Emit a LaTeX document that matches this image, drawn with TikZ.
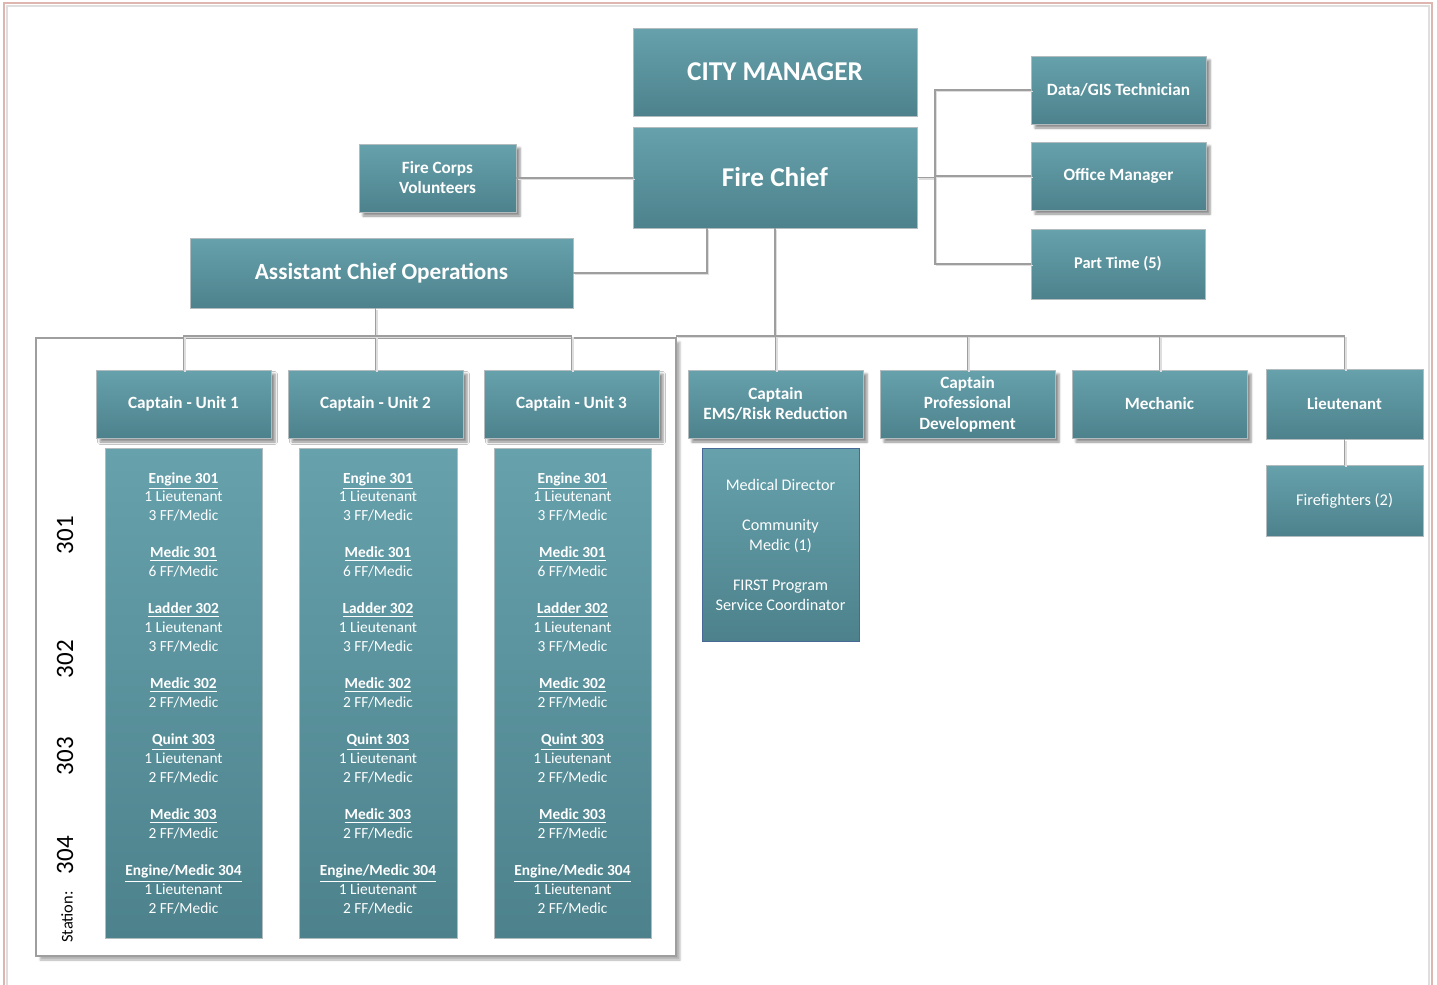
\documentclass[tikz,border=0pt]{standalone}
\usepackage{fontspec}
\setmainfont{Carlito}
\usetikzlibrary{shadows.blur}

\definecolor{boxtop}{RGB}{102,161,172}
\definecolor{boxbot}{RGB}{77,130,140}
\definecolor{boxedge}{RGB}{178,188,190}
\definecolor{linegray}{RGB}{158,158,158}
\definecolor{lineshade}{RGB}{222,222,222}
\definecolor{pagepink}{RGB}{222,182,175}
\definecolor{subedge}{RGB}{72,104,150}

% box placed by its corners: style, name, x1, y1, x2, y2, text
\newcommand{\obox}[7]{%
  \node[#1, minimum width={(#5-#3)*0.5pt}, minimum height={(#6-#4)*0.5pt}]
    (#2) at ({(#3+#5)/2},{(#4+#6)/2}) {#7};}

% crew list of one unit
\newcommand{\crewlist}{%
  \textbf{\underline{Engine 301}}\\ 1 Lieutenant\\ 3 FF/Medic\\[9.35pt]
  \textbf{\underline{Medic 301}}\\ 6 FF/Medic\\[9.35pt]
  \textbf{\underline{Ladder 302}}\\ 1 Lieutenant\\ 3 FF/Medic\\[9.35pt]
  \textbf{\underline{Medic 302}}\\ 2 FF/Medic\\[9.35pt]
  \textbf{\underline{Quint 303}}\\ 1 Lieutenant\\ 2 FF/Medic\\[9.35pt]
  \textbf{\underline{Medic 303}}\\ 2 FF/Medic\\[9.35pt]
  \textbf{\underline{Engine/Medic 304}}\\ 1 Lieutenant\\ 2 FF/Medic}

\begin{document}
\begin{tikzpicture}[x=0.5pt, y=-0.5pt,
  orgbox/.style={draw=boxedge, line width=0.4pt, top color=boxtop,
    bottom color=boxbot, text=white, align=center, inner sep=0pt,
    outer sep=0pt, font=\bfseries\fontsize{8.6}{10.3}\selectfont},
  shadowed/.style={blur shadow={shadow xshift=2pt, shadow yshift=-2pt,
    shadow blur steps=4, shadow blur radius=1.2pt, shadow opacity=45}},
  crewbox/.style={orgbox, font=\fontsize{7.7}{9.35}\selectfont},
  subbox/.style={orgbox, draw=subedge, font=\fontsize{8.1}{10}\selectfont},
  stationlbl/.style={rotate=90, font=\fontsize{12.5}{14}\selectfont},
  conn/.style={draw=linegray, line width=0.7pt,
    preaction={draw=lineshade, line width=0.7pt,
      transform canvas={xshift=0.8pt, yshift=-0.8pt}}},
  stationframe/.style={draw=linegray, line width=0.6pt, fill=white,
    inner sep=0pt, outer sep=0pt,
    blur shadow={shadow xshift=2pt, shadow yshift=-2pt,
      shadow blur steps=3, shadow blur radius=1pt, shadow opacity=30}}]

\useasboundingbox (0,0) rectangle (1437,985);

% page border
\draw[lineshade, line width=0.8pt] (7,6) rectangle (1429,1000);
\draw[pagepink, line width=1pt] (4,3) rectangle (1432,1000);

% frame round the three shift units
\obox{stationframe}{frame}{36}{338}{676}{956}{}

% station labels
\node[stationlbl] (st301) at (65,535) {301};
\node[stationlbl] (st302) at (65,659) {302};
\node[stationlbl] (st303) at (65,756) {303};
\node[stationlbl] (st304) at (65,855) {304};
\node[rotate=90, font=\fontsize{8.2}{10}\selectfont] (stlbl) at (67,917) {Station:};

% command staff
\obox{orgbox, font=\bfseries\fontsize{13.6}{15}\selectfont}{city}{633}{28}{917}{116}{CITY MANAGER}
\obox{orgbox, font=\bfseries\fontsize{13.6}{15}\selectfont}{chief}{633}{127}{917}{228}{Fire Chief}
\obox{orgbox, shadowed, font=\bfseries\fontsize{8.6}{10}\selectfont}{corps}{359}{144}{516}{212}{Fire Corps\\Volunteers}
\obox{orgbox, font=\bfseries\fontsize{11.6}{13}\selectfont}{asst}{190}{238}{573}{308}{Assistant Chief Operations}
\obox{orgbox, shadowed}{gis}{1031}{56}{1206}{124}{Data/GIS Technician}
\obox{orgbox, shadowed}{office}{1031}{142}{1206}{210}{Office Manager}
\obox{orgbox, font=\bfseries\fontsize{8.2}{10}\selectfont}{part}{1031}{229}{1205}{299}{Part Time (5)}

% captains and staff positions
\obox{orgbox, shadowed}{cap1}{96}{370}{271}{438}{Captain - Unit 1}
\obox{orgbox, shadowed}{cap2}{288}{370}{463}{438}{Captain - Unit 2}
\obox{orgbox, shadowed}{cap3}{484}{370}{659}{438}{Captain - Unit 3}
\obox{orgbox, shadowed}{ems}{688}{370}{863}{438}{Captain\\EMS/Risk Reduction}
\obox{orgbox, shadowed}{prof}{880}{370}{1055}{438}{Captain\\Professional\\Development}
\obox{orgbox, shadowed}{mech}{1072}{370}{1247}{438}{Mechanic}
\obox{orgbox, font=\bfseries\fontsize{8.4}{10}\selectfont}{lt}{1266}{369}{1423}{439}{Lieutenant}
\obox{orgbox, font=\fontsize{8.2}{10}\selectfont}{ff}{1266}{465}{1423}{536}{Firefighters (2)}

% unit crews
\obox{crewbox}{crew1}{105}{448}{262}{938}{\crewlist}
\obox{crewbox}{crew2}{299}{448}{457}{938}{\crewlist}
\obox{crewbox}{crew3}{494}{448}{651}{938}{\crewlist}

% EMS staff
\obox{subbox}{emsstaff}{702}{448}{859}{641}{Medical Director\\[10pt]Community\\Medic (1)\\[10pt]FIRST Program\\Service Coordinator}

% connectors
\coordinate (busy) at (0,336);
\coordinate (rbus) at (935,0);

\draw[conn] (corps.east) -- (corps.east -| chief.west);
\draw[conn] ([xshift=-34pt]chief.south) |- (asst.east);

\draw[conn] (chief.east) -- (chief.east -| rbus);
\draw[conn] (gis.west) -| (rbus |- part.west) -- (part.west);
\draw[conn] (office.west) -- (office.west -| rbus);

\draw[conn] (chief.south) -- (chief.south |- busy);
\draw[conn] (frame.north east |- busy) -- (lt.north |- busy) -- (lt.north);
\draw[conn] (ems.north) -- (ems.north |- busy);
\draw[conn] (prof.north) -- (prof.north |- busy);
\draw[conn] (mech.north) -- (mech.north |- busy);
\draw[conn] (lt.south) -- (ff.north);

\draw[conn] (cap2.north |- asst.south) -- (cap2.north);
\draw[conn] (cap1.north) |- (cap3.north |- busy) -- (cap3.north);

\end{tikzpicture}
\end{document}
